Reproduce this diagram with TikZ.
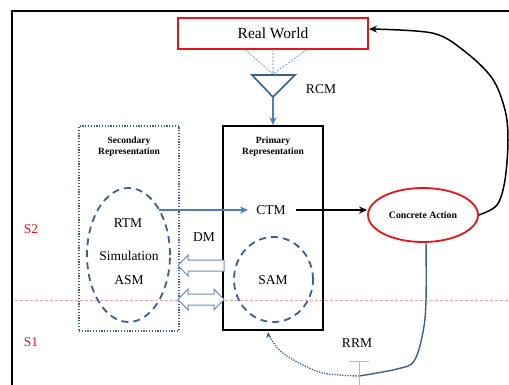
\documentclass[tikz,border=0pt]{standalone}
\usepackage{fontspec}
\setmainfont{Liberation Serif}
\usetikzlibrary{shapes.geometric,arrows.meta}
\definecolor{arblue}{HTML}{4F7DB8}
\definecolor{dkblue}{HTML}{3D5F8C}
\definecolor{hollow}{HTML}{6E8FB5}
\definecolor{tbar}{HTML}{A9BCD0}
\definecolor{redline}{HTML}{E6A3A3}
\definecolor{rred}{HTML}{E8141B}
\begin{document}
\begin{tikzpicture}[x=1pt,y=-1pt,
  lbl/.style={font=\fontsize{13.5}{15}\selectfont, inner sep=0pt},
  ttl/.style={font=\fontsize{9.5}{11}\selectfont\bfseries, align=center, inner sep=0pt},
  dashell/.style={draw=dkblue, line width=1.8pt, dash pattern=on 7pt off 5pt, ellipse, inner sep=0pt},
  hol/.style={draw=hollow, fill=white, line width=1pt, line join=miter},
  blarrow/.style={draw=arblue, line width=1.6pt, -{Stealth[length=8pt,width=7pt]}},
  bkarrow/.style={draw=black, line width=1.5pt, -{Stealth[length=8pt,width=7pt]}}
]
\useasboundingbox (0,0) rectangle (509,385);
% frame
\draw[line width=2pt] (12,385) -- (12,11) -- (509,11);
% red dashed separator
\draw[redline, line width=0.9pt, dash pattern=on 3pt off 2pt] (15,300) -- (509,300);
\node[lbl, text=rred] (s2) at (31,229) {S2};
\node[lbl, text=rred] (s1) at (31,342) {S1};

% Real World
\node[draw=rred, line width=2pt, minimum width=190pt, minimum height=31pt, inner sep=0pt,
      font=\fontsize{15.5}{17}\selectfont] (rw) at (273,33.5) {Real World};
% RCM triangle
\coordinate (tl) at (252,75);
\coordinate (tr) at (295,75);
\coordinate (apex) at (273,97);
\coordinate (ttop) at (273,74);
\draw[arblue, line width=0.6pt, dash pattern=on 2pt off 1.5pt] (245,49.5) -- (ttop) (273,49.5) -- (ttop) (307,49.5) -- (ttop);
\draw[dkblue, line width=1.6pt, line join=miter] (tl) -- (tr) -- (apex) -- cycle;
\node[lbl] (rcm) at (321,89) {RCM};

% Primary representation
\node[draw, line width=1.6pt, minimum width=100pt, minimum height=204pt, inner sep=0pt] (prim) at (273,228) {};
\draw[blarrow] (apex) -- (prim.north);
\node[ttl] (pt) at (273,146.5) {Primary\\Representation};
\node[lbl] (ctm) at (271,210) {CTM};
\node[dashell, minimum width=79pt, minimum height=85pt] (sam) at (273.5,279.5) {};
\node[lbl] (samt) at (273,280) {SAM};

% Secondary representation
\node[draw=dkblue, line width=1.5pt, dash pattern=on 1.2pt off 1.6pt, minimum width=100pt, minimum height=205pt, inner sep=0pt] (sec) at (129,228.5) {};
\node[ttl] (st) at (129,146.5) {Secondary\\Representation};
\node[dashell, minimum width=83pt, minimum height=134pt] (ell) at (128.5,255) {};
\node[lbl] (rtm) at (128,223) {RTM};
\node[lbl] (sim) at (129,256) {Simulation};
\node[lbl] (asm) at (129,280) {ASM};
\node[lbl] (dm) at (204,237) {DM};

% RTM -> CTM
\coordinate (ellout) at (158.5,210);
\coordinate (ctmin) at (248,210);
\draw[blarrow] (ellout) -- (ctmin);
% hollow arrows
\draw[hol] (178,265.5) -- (188,255) -- (188,260) -- (224,260) -- (224,271) -- (188,271) -- (188,276) -- cycle;
\draw[hol] (178,299.5) -- (188,289) -- (188,294) -- (214,294) -- (214,289) -- (224,299.5) -- (214,310) -- (214,305) -- (188,305) -- (188,310) -- cycle;

% Concrete Action
\node[draw=rred, line width=1.8pt, ellipse, minimum width=110pt, minimum height=54pt, inner sep=0pt,
      font=\fontsize{9.8}{11}\selectfont\bfseries] (ca) at (423,215) {Concrete Action};
\draw[bkarrow] (ctm.east) ++(10,0) coordinate (ctme) -- (ca.west |- ctme);

% feedback to Real World
\draw[bkarrow] plot[smooth, tension=0.55] coordinates {(ca.east) (497,205) (505,180) (508,140) (505,110) (492,78) (463,50) (432,33) (rw.east |- 0,29)};

% RRM path
\coordinate (rrm) at (359,376);
\draw[dkblue, line width=1.4pt] plot[smooth, tension=0.6] coordinates {(426,241) (426,300) (423,332) (414,361) (397,369) (rrm)};
\draw[dkblue, line width=1.4pt, dash pattern=on 1.2pt off 1.4pt, -{Stealth[length=6pt,width=5pt]}]
  plot[smooth, tension=0.6] coordinates {(rrm) (340,375) (316,371) (284,354) (271,339) (268,332)};
\draw[tbar, line width=1pt] (349,361) -- (369,361) (359,361) -- (359,385);
\node[lbl] (rrmt) at (357,343) {RRM};
\end{tikzpicture}
\end{document}
